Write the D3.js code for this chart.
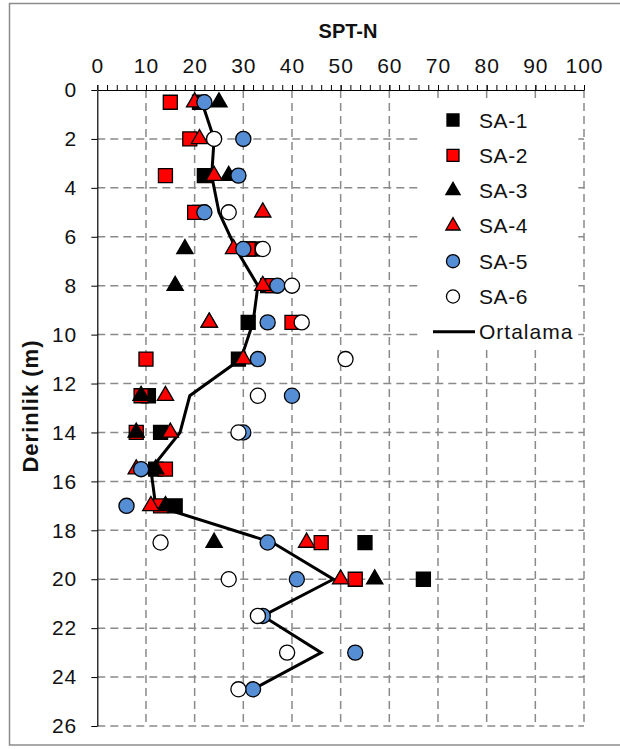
<!DOCTYPE html>
<html>
<head>
<meta charset="utf-8">
<script src="https://cdn.jsdelivr.net/npm/d3@7"></script>
<style>
  body { margin: 0; background: #fff; }
  svg { display: block; font-family: "Liberation Sans", Arial, sans-serif; }
</style>
</head>
<body>
<svg width="620" height="749"></svg>
<script>
// derinlik (m) - her seri ayni derinliklerde okunmus
const depths = [0.5, 2, 3.5, 5, 6.5, 8, 9.5, 11, 12.5, 14, 15.5, 17, 18.5, 20, 21.5, 23, 24.5];

// SPT-N degerleri (null = olcum yok)
const sa1 = [21, null, 22, 21, 32, 35, 31, 29, 10.5, 13, 12, 16, 55, 67, null, null, null];
const sa2 = [15, 19, 14, 20, 31, 36, 40, 10, 9, 8, 14, 13, 46, 53, null, null, null];
const sa3 = [25, null, 27, null, 18, 16, 23, null, 9, 8, 12, 14, 24, 57, null, null, null];
const sa4 = [20, 21, 24, 34, 28, 34, 23, 30, 14, 15, 8, 11, 43, 50, null, null, null];
const sa5 = [22, 30, 29, 22, 30, 37, 35, 33, 40, 30, 9, 6, 35, 41, 34, 53, 32];
const sa6 = [null, 24, null, 27, 34, 40, 42, 51, 33, 29, null, null, 13, 27, 33, 39, 29];
const ortalama = [21.5, 24, 23.5, 25, 28.5, 33, 32, 29.5, 19, 17, 11, 12, 36, 48.5, 34, 46, 32];

const xTicks = d3.range(0, 101, 10);
const xMinorTicks = d3.range(0, 101, 2);
const yTicks = d3.range(0, 27, 2);

const series = [
  { name: "SA-1", values: sa1, shape: d3.symbolSquare, fill: "#000000" },
  { name: "SA-2", values: sa2, shape: d3.symbolSquare, fill: "#ff0000" },
  { name: "SA-3", values: sa3, shape: d3.symbolTriangle, fill: "#000000" },
  { name: "SA-4", values: sa4, shape: d3.symbolTriangle, fill: "#ff0000" },
  { name: "SA-5", values: sa5, shape: d3.symbolCircle, fill: "#558ed5" },
  { name: "SA-6", values: sa6, shape: d3.symbolCircle, fill: "#ffffff" },
];

// isaret boyutlari (alan)
function markSize(shape, legend) {
  if (shape === d3.symbolSquare) return legend ? 144 : 196;
  if (shape === d3.symbolTriangle) return legend ? 88 : 115;
  return legend ? 135 : 180;
}

const svg = d3.select("svg");

// dis cerceve
svg.append("rect")
  .attr("x", 9.5).attr("y", 3.5)
  .attr("width", 630).attr("height", 741.5)
  .attr("fill", "#fff")
  .attr("stroke", "#8c8c8c")
  .attr("stroke-width", 1.5);

const plotL = 97.3, plotR = 584, plotT = 90, plotB = 726;

const x = d3.scaleLinear().domain([0, 100]).range([plotL, plotR]);
const y = d3.scaleLinear().domain([0, 26]).range([plotT, plotB]);

// kesikli izgara
const grid = svg.append("g")
  .attr("stroke", "#8a8a8a")
  .attr("stroke-width", 1.5)
  .attr("stroke-dasharray", "8,5");

grid.selectAll(".vgrid")
  .data(xTicks.slice(1))
  .enter()
  .append("line")
  .attr("x1", (d) => x(d)).attr("x2", (d) => x(d))
  .attr("y1", plotT).attr("y2", plotB);

grid.selectAll(".hgrid")
  .data(yTicks.slice(1))
  .enter()
  .append("line")
  .attr("x1", plotL).attr("x2", plotR)
  .attr("y1", (d) => y(d)).attr("y2", (d) => y(d));

// ust eksen (kucuk tikler + etiketler)
svg.append("g")
  .attr("transform", `translate(0,${plotT})`)
  .call(d3.axisTop(x).tickValues(xMinorTicks).tickSize(5).tickFormat(""))
  .call((g) => g.select(".domain").remove())
  .selectAll("line").attr("stroke", "#000");

const xAxis = svg.append("g")
  .attr("transform", `translate(0,${plotT})`)
  .call(d3.axisTop(x).tickValues(xTicks).tickSize(5).tickPadding(12).tickSizeOuter(0));
xAxis.select(".domain").attr("stroke", "#000").attr("stroke-width", 1.2);
xAxis.selectAll("text")
  .attr("font-size", "21px")
  .attr("letter-spacing", "1px")
  .attr("fill", "#111")
  .attr("font-family", "Liberation Sans, Arial, sans-serif");

// sol eksen
const yAxis = svg.append("g")
  .attr("transform", `translate(${plotL},0)`)
  .call(d3.axisLeft(y).tickValues(yTicks).tickSize(6).tickPadding(14).tickSizeOuter(0));
yAxis.select(".domain").attr("stroke", "#000").attr("stroke-width", 1.2);
yAxis.selectAll("line").attr("stroke", "#000");
yAxis.selectAll("text")
  .attr("font-size", "21px")
  .attr("letter-spacing", "1px")
  .attr("fill", "#111")
  .attr("font-family", "Liberation Sans, Arial, sans-serif");

// basliklar
svg.append("text")
  .text("SPT-N")
  .attr("x", 348).attr("y", 38)
  .attr("text-anchor", "middle")
  .attr("font-size", "20px")
  .attr("font-weight", "bold")
  .attr("fill", "#111");

svg.append("text")
  .text("Derinlik (m)")
  .attr("transform", "translate(37.5,406) rotate(-90)")
  .attr("text-anchor", "middle")
  .attr("font-size", "22px")
  .attr("letter-spacing", "1px")
  .attr("font-weight", "bold")
  .attr("fill", "#111");

// ortalama cizgisi (isaretlerin altinda)
const line = d3.line()
  .x((d) => x(d[1]))
  .y((d) => y(d[0]));

svg.append("path")
  .datum(depths.map((d, i) => [d, ortalama[i]]))
  .attr("d", line)
  .attr("fill", "none")
  .attr("stroke", "#000")
  .attr("stroke-width", 3)
  .attr("stroke-linejoin", "miter");

// seri isaretleri
series.forEach((s) => {
  const pts = depths
    .map((d, i) => [d, s.values[i]])
    .filter((p) => p[1] != null);

  svg.append("g")
    .selectAll("path")
    .data(pts)
    .enter()
    .append("path")
    .attr("transform", (d) => `translate(${x(d[1])},${y(d[0])})`)
    .attr("d", d3.symbol().type(s.shape).size(markSize(s.shape, false)))
    .attr("fill", s.fill)
    .attr("stroke", "#000")
    .attr("stroke-width", 1.3);
});

// lejant
const legend = svg.append("g");
legend.append("rect")
  .attr("x", 421).attr("y", 98)
  .attr("width", 155).attr("height", 252)
  .attr("fill", "#fff");

const rowY = (i) => 120 + i * 35.3;

series.forEach((s, i) => {
  legend.append("path")
    .attr("transform", `translate(453,${rowY(i)})`)
    .attr("d", d3.symbol().type(s.shape).size(markSize(s.shape, true)))
    .attr("fill", s.fill)
    .attr("stroke", "#000")
    .attr("stroke-width", 1.3);
  legend.append("text")
    .text(s.name)
    .attr("x", 479).attr("y", rowY(i) + 7.5)
    .attr("font-size", "21px")
    .attr("letter-spacing", "0.6px")
    .attr("fill", "#111");
});

legend.append("line")
  .attr("x1", 433).attr("x2", 475)
  .attr("y1", rowY(6)).attr("y2", rowY(6))
  .attr("stroke", "#000")
  .attr("stroke-width", 3);
legend.append("text")
  .text("Ortalama")
  .attr("x", 479).attr("y", rowY(6) + 7.5)
  .attr("font-size", "21px")
  .attr("letter-spacing", "1px")
  .attr("fill", "#111");
</script>
</body>
</html>
